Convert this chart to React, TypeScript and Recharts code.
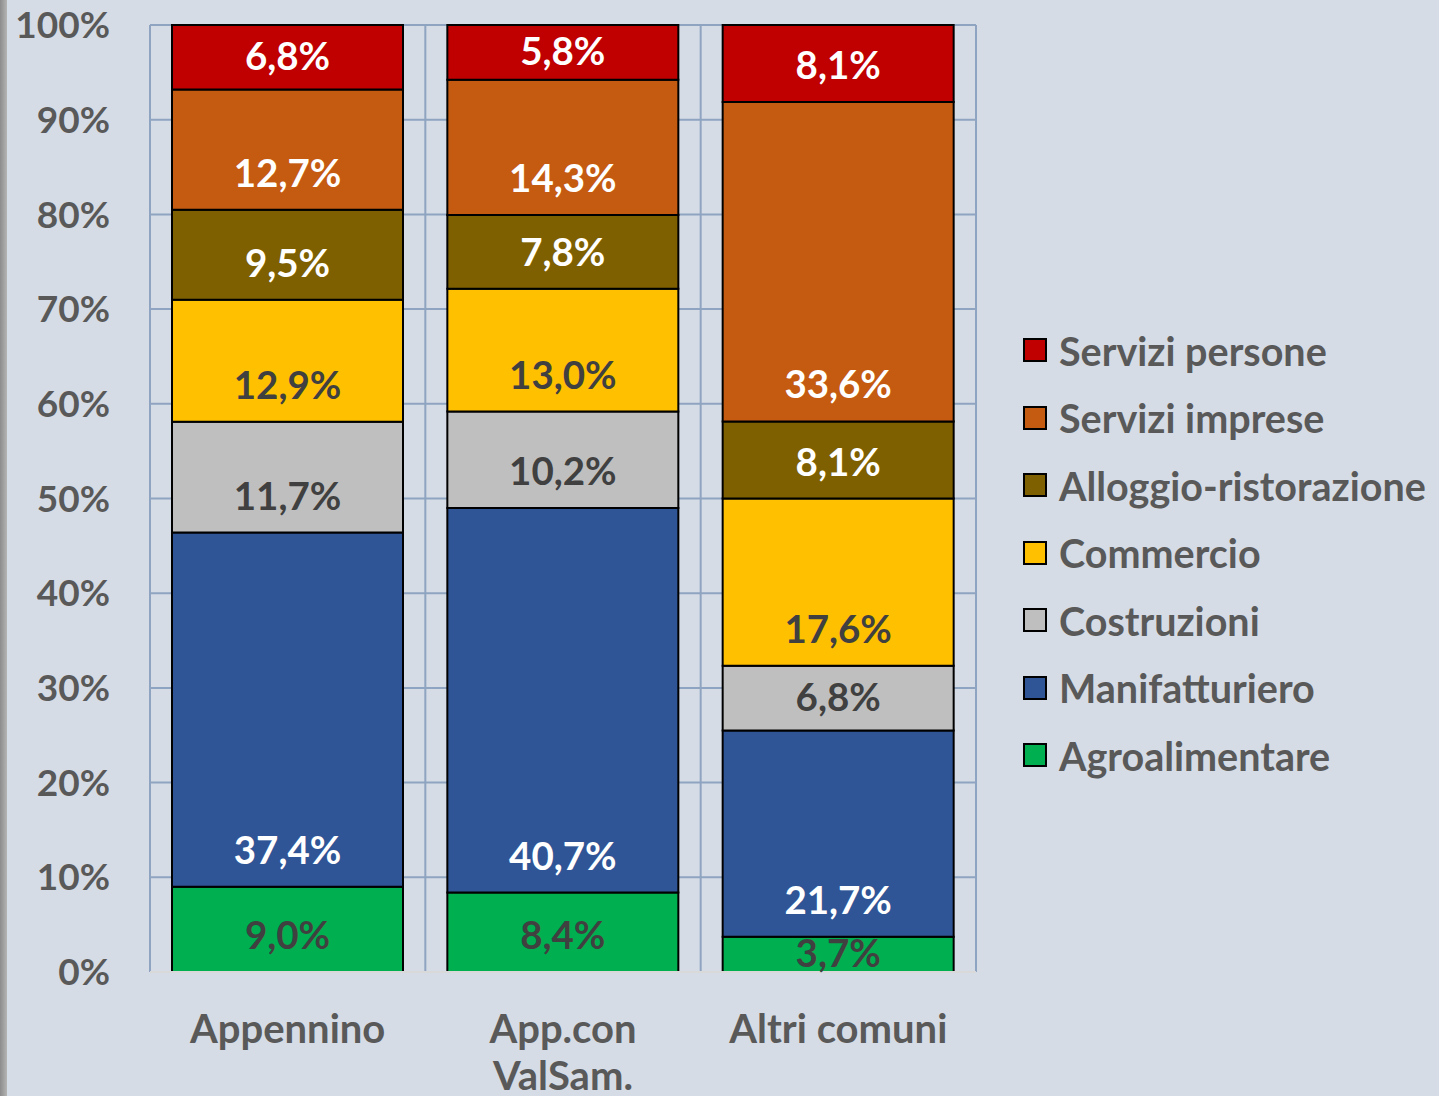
import React from 'react';
import { BarChart, Bar, XAxis, YAxis, CartesianGrid, Legend, LabelList } from 'recharts';

const categories = ['Appennino', 'App.con ValSam.', 'Altri comuni'];
const agroalimentare = [9.0, 8.4, 3.7];
const manifatturiero = [37.4, 40.7, 21.7];
const costruzioni = [11.7, 10.2, 6.8];
const commercio = [12.9, 13.0, 17.6];
const alloggio = [9.5, 7.8, 8.1];
const serviziImprese = [12.7, 14.3, 33.6];
const serviziPersone = [6.8, 5.8, 8.1];
const yTicks = [0, 0.1, 0.2, 0.3, 0.4, 0.5, 0.6, 0.7, 0.8, 0.9, 1];

const series = [
  { key: 'agro', name: 'Agroalimentare', values: agroalimentare, color: '#00B050', labelColor: '#404040' },
  { key: 'manif', name: 'Manifatturiero', values: manifatturiero, color: '#2F5597', labelColor: '#FFFFFF' },
  { key: 'costr', name: 'Costruzioni', values: costruzioni, color: '#BFBFBF', labelColor: '#404040' },
  { key: 'comm', name: 'Commercio', values: commercio, color: '#FFC000', labelColor: '#404040' },
  { key: 'allog', name: 'Alloggio-ristorazione', values: alloggio, color: '#7F6000', labelColor: '#FFFFFF' },
  { key: 'simp', name: 'Servizi imprese', values: serviziImprese, color: '#C55A11', labelColor: '#FFFFFF' },
  { key: 'spers', name: 'Servizi persone', values: serviziPersone, color: '#C00000', labelColor: '#FFFFFF' },
];

const data = categories.map((c, i) => {
  const row: any = { name: c };
  series.forEach((s) => (row[s.key] = s.values[i]));
  return row;
});

const FONT = 'Lato';
const FS = 37;
const W = 1439;
const H = 1096;
const X_H = 30;
const M = { top: 25, right: 463, bottom: 124 - X_H, left: 0 };
const Y_W = 150;

const fmt = (v: number) => v.toFixed(1).replace('.', ',') + '%';

const makeLabel = (s: any) => (p: any) => {
  const { x, y, width, height, index } = p;
  const v = s.values[index];
  const bottom = Number(y) + Number(height);
  const off = Math.min(36, Number(height) / 2);
  return (
    <text
      x={Number(x) + Number(width) / 2}
      y={bottom - off - 2}
      textAnchor="middle"
      dominantBaseline="central"
      fill={s.labelColor}
      style={{ fontFamily: FONT, fontWeight: 700, fontSize: 38.5 }}
    >
      {fmt(v)}
    </text>
  );
};

const CatTick = (props: any) => {
  const { x, y, payload } = props;
  const text: string = String(payload.value);
  // wrap long labels onto two lines (the category band is narrower than the label)
  const lines = text.length > 13 ? text.split(' ') : [text];
  return (
    <text
      x={x}
      y={y}
      textAnchor="middle"
      fill="#595959"
      style={{ fontFamily: FONT, fontWeight: 700, fontSize: 40 }}
    >
      {lines.map((l, i) => (
        <tspan key={i} x={x} y={y + 56 + i * 47} dominantBaseline="central">
          {l}
        </tspan>
      ))}
    </text>
  );
};

const LegendContent = () => {
  const items = [...series].reverse();
  return (
    <div style={{ position: 'relative', width: 416 }}>
      {items.map((s, i) => (
        <div
          key={s.key}
          style={{ position: 'absolute', left: 0, top: i * 67.5, height: 44, display: 'flex', alignItems: 'center' }}
        >
          <div style={{ width: 20, height: 20, background: s.color, border: '2px solid #000', marginRight: 12 }} />
          <span style={{ fontFamily: FONT, fontWeight: 700, fontSize: 39.5, color: '#595959', whiteSpace: 'nowrap' }}>
            {s.name}
          </span>
        </div>
      ))}
    </div>
  );
};

export default function App() {
  const plotLeft = M.left + Y_W;
  const plotW = W - M.right - plotLeft;
  return (
    <div style={{ position: 'absolute', left: 0, top: 0, width: W, height: H, background: '#D6DCE5', overflow: 'hidden' }}>
      <div style={{ position: 'absolute', left: 0, top: 0, width: 7, height: H, background: 'linear-gradient(90deg,#8c8c8c,#b5b5b5)' }} />
      <BarChart width={W} height={H} data={data} stackOffset="expand" margin={M} barCategoryGap={22}>
        <CartesianGrid
          stroke="#8EA4C1"
          strokeWidth={2}
          verticalCoordinatesGenerator={(p: any) => {
            const left = p && p.offset && p.offset.left != null ? p.offset.left : plotLeft;
            const w = p && p.offset && p.offset.width != null ? p.offset.width : plotW;
            return [0, 1, 2, 3].map((i) => left + (i * w) / 3);
          }}
        />
        <XAxis
          dataKey="name"
          height={X_H}
          axisLine={{ stroke: '#D9D9D9', strokeWidth: 2 }}
          tickLine={false}
          tickSize={0}
          tickMargin={0}
          interval={0}
          tick={<CatTick />}
        />
        <YAxis
          width={Y_W}
          domain={[0, 1]}
          ticks={yTicks}
          tickFormatter={(v: number) => `${Math.round(v * 100)}%`}
          axisLine={false}
          tickLine={false}
          tickSize={0}
          tickMargin={40}
          tick={{ fill: '#595959', fontFamily: FONT, fontWeight: 700, fontSize: FS }}
        />
        <Legend
          verticalAlign="middle"
          align="center"
          layout="horizontal"
          content={<LegendContent />}
          wrapperStyle={{ position: 'absolute', left: 1023, top: 328, width: 416 }}
        />
        {series.map((s) => (
          <Bar key={s.key} dataKey={s.key} name={s.name} stackId="a" fill={s.color} stroke="#000" strokeWidth={2} isAnimationActive={false}>
            <LabelList dataKey={s.key} content={makeLabel(s)} />
          </Bar>
        ))}
      </BarChart>
    </div>
  );
}
